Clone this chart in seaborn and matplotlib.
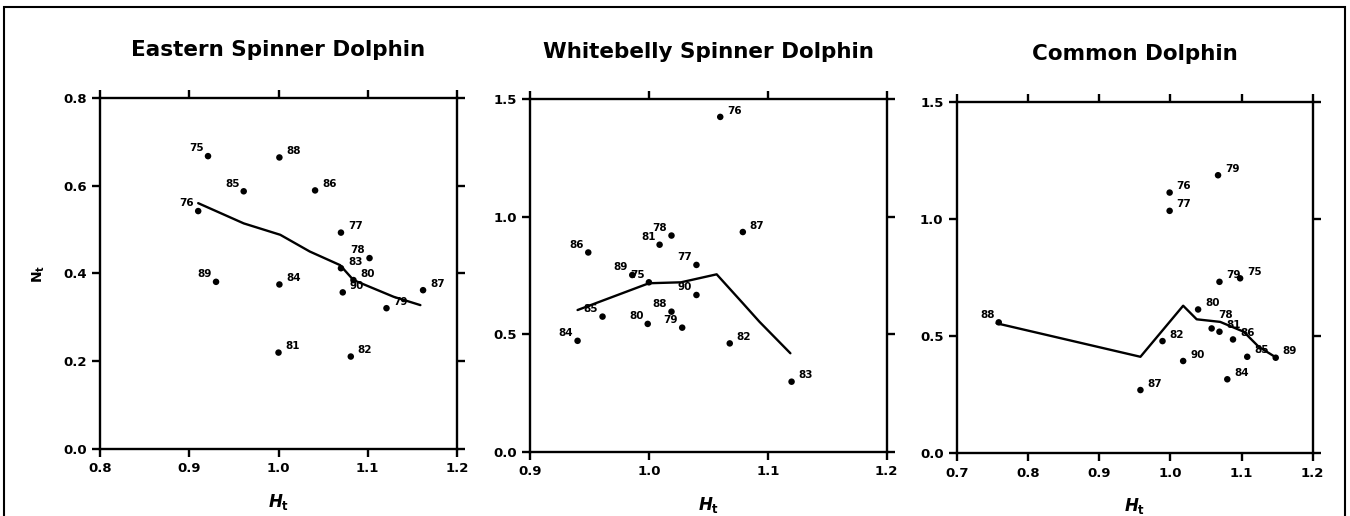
import numpy as np
import pandas as pd
import seaborn as sns
import matplotlib.pyplot as plt
from matplotlib.patches import Rectangle

# ---- data ----
titles = ["Eastern Spinner Dolphin", "Whitebelly Spinner Dolphin", "Common Dolphin"]

years_e = ["75", "88", "85", "86", "76", "77", "78", "83", "80", "90", "79", "87", "89", "84", "81", "82"]
ht_e = [0.921, 1.001, 0.961, 1.041, 0.910, 1.070, 1.102, 1.070, 1.084, 1.072, 1.121, 1.162, 0.930, 1.001, 1.000, 1.081]
nt_e = [0.667, 0.664, 0.587, 0.589, 0.542, 0.493, 0.435, 0.412, 0.385, 0.357, 0.321, 0.362, 0.381, 0.375, 0.220, 0.211]
line_ht_e = [0.910, 0.961, 1.002, 1.035, 1.069, 1.084, 1.129, 1.159]
line_nt_e = [0.560, 0.514, 0.488, 0.450, 0.419, 0.385, 0.347, 0.328]

years_w = ["76", "87", "78", "81", "86", "77", "89", "75", "90", "88", "85", "80", "79", "84", "82", "83"]
ht_w = [1.060, 1.079, 1.019, 1.009, 0.949, 1.040, 0.986, 1.000, 1.040, 1.019, 0.961, 0.999, 1.028, 0.940, 1.068, 1.120]
nt_w = [1.425, 0.935, 0.920, 0.881, 0.848, 0.795, 0.752, 0.721, 0.667, 0.596, 0.575, 0.544, 0.528, 0.472, 0.461, 0.298]
line_ht_w = [0.940, 1.000, 1.027, 1.057, 1.079, 1.093, 1.119]
line_nt_w = [0.603, 0.717, 0.721, 0.755, 0.632, 0.553, 0.419]

years_c = ["79", "76", "77", "79", "75", "80", "88", "78", "81", "86", "82", "85", "89", "90", "84", "87"]
ht_c = [1.067, 0.999, 0.999, 1.069, 1.098, 1.039, 0.759, 1.058, 1.069, 1.088, 0.989, 1.108, 1.148, 1.018, 1.080, 0.958]
nt_c = [1.187, 1.113, 1.035, 0.732, 0.747, 0.614, 0.559, 0.533, 0.519, 0.486, 0.479, 0.412, 0.408, 0.394, 0.316, 0.270]
line_ht_c = [0.756, 0.958, 1.018, 1.037, 1.070, 1.103, 1.124, 1.149]
line_nt_c = [0.555, 0.412, 0.630, 0.572, 0.561, 0.519, 0.455, 0.408]

x_ticks = [[0.8, 0.9, 1.0, 1.1, 1.2], [0.9, 1.0, 1.1, 1.2], [0.7, 0.8, 0.9, 1.0, 1.1, 1.2]]
y_ticks = [[0.0, 0.2, 0.4, 0.6, 0.8], [0.0, 0.5, 1.0, 1.5], [0.0, 0.5, 1.0, 1.5]]

# labels drawn to the upper-left of their dot (layout only)
left_labels = [
    {"75", "85", "76", "89", "78"},
    {"78", "81", "86", "77", "89", "75", "90", "88", "85", "80", "79", "84"},
    {"88"},
]
# labels lifted a little higher to keep clusters readable
raised = [set(), set(), {"78"}]

sns.set_style("ticks")
plt.rcParams["font.family"] = ["DejaVu Sans"]
plt.rcParams["mathtext.fontset"] = "custom"
plt.rcParams["mathtext.it"] = "DejaVu Sans:italic:bold"
plt.rcParams["mathtext.rm"] = "DejaVu Sans:bold"
for key in ["text.color", "axes.labelcolor", "xtick.color", "ytick.color", "axes.edgecolor"]:
    plt.rcParams[key] = "black"

fig = plt.figure(figsize=(13.5, 5.16), dpi=100)
boxes = [
    [0.0741, 0.1293, 0.2644, 0.6814],
    [0.3926, 0.1246, 0.2642, 0.6830],
    [0.7087, 0.1215, 0.2637, 0.6810],
]

panels = [
    (years_e, ht_e, nt_e, line_ht_e, line_nt_e),
    (years_w, ht_w, nt_w, line_ht_w, line_nt_w),
    (years_c, ht_c, nt_c, line_ht_c, line_nt_c),
]

for i, (yrs, hx, ny, lx, ly) in enumerate(panels):
    ax = fig.add_axes(boxes[i])
    pts = pd.DataFrame({"Ht": hx, "Nt": ny, "year": yrs})
    trend = pd.DataFrame({"Ht": lx, "Nt": ly})
    sns.lineplot(data=trend, x="Ht", y="Nt", sort=False, color="black", lw=1.7, ax=ax)
    sns.scatterplot(data=pts, x="Ht", y="Nt", color="black", s=22, edgecolor="none", ax=ax, zorder=3)

    for _, r in pts.iterrows():
        dy = 6 if r["year"] in raised[i] else 1
        if r["year"] in left_labels[i]:
            ax.annotate(r["year"], (r["Ht"], r["Nt"]), xytext=(-3, dy + 1), textcoords="offset points",
                        ha="right", va="bottom", fontsize=7.5, fontweight="bold")
        else:
            ax.annotate(r["year"], (r["Ht"], r["Nt"]), xytext=(5, dy), textcoords="offset points",
                        ha="left", va="bottom", fontsize=7.5, fontweight="bold")

    ax.set_xlim(x_ticks[i][0], x_ticks[i][-1])
    ax.set_ylim(y_ticks[i][0], y_ticks[i][-1])
    ax.set_xticks(x_ticks[i])
    ax.set_yticks(y_ticks[i])
    ax.set_xticklabels([f"{v:.1f}" for v in x_ticks[i]])
    ax.set_yticklabels([f"{v:.1f}" for v in y_ticks[i]])
    for sp in ax.spines.values():
        sp.set_visible(True)
        sp.set_linewidth(1.7)
        sp.set_color("black")
    ax.tick_params(direction="out", length=6, width=1.7, labelsize=9.5, colors="black",
                   top=True, right=True, labeltop=False, labelright=False)
    for lab in ax.get_xticklabels() + ax.get_yticklabels():
        lab.set_fontweight("bold")
    ax.set_title(titles[i], fontsize=15.5, fontweight="bold", pad=30, color="black")
    ax.set_xlabel(r"$H_{\rm t}$", fontsize=12, labelpad=12)
    if i == 0:
        ax.set_ylabel(r"${\rm N_t}$", fontsize=10, labelpad=12)
    else:
        ax.set_ylabel("")

frame = Rectangle((0.003, -0.2), 0.9933, 1.1864, transform=fig.transFigure,
                  fill=False, edgecolor="black", lw=1.5, clip_on=False)
fig.patches.append(frame)

fig.savefig("out.png", dpi=100, facecolor="white")
